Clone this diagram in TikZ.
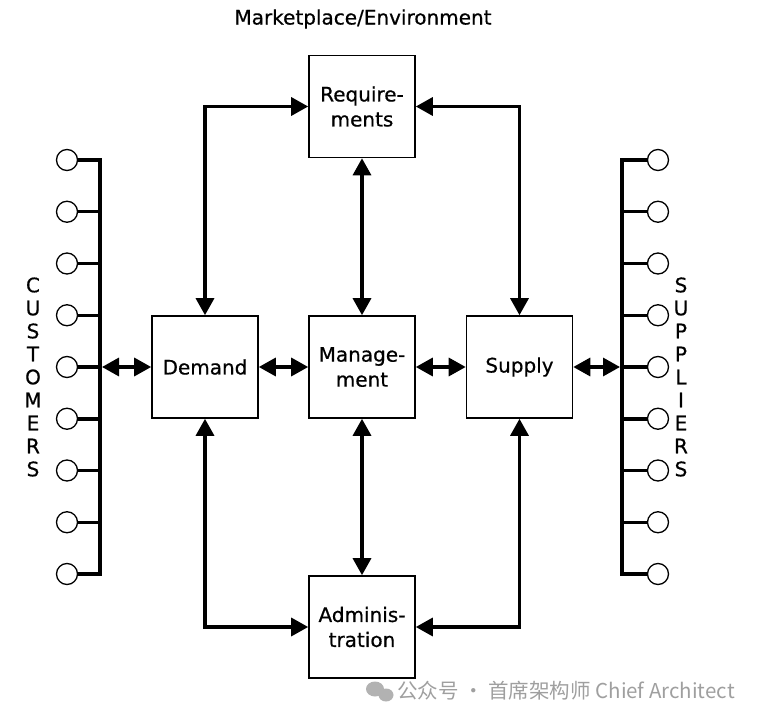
\documentclass[tikz,border=0pt]{standalone}
\usepackage{fontspec}
\setmainfont[FakeBold=0.6]{DejaVu Sans}
\newfontfamily\cjk{Noto Sans CJK SC}
\usetikzlibrary{arrows.meta,calc}
\begin{document}
\begin{tikzpicture}[x=1pt,y=-1pt,
  box/.style={draw,line width=1.6pt,minimum width=106pt,minimum height=102pt,inner sep=0pt,align=center,font=\fontsize{20}{25}\selectfont},
  dbl/.style={line width=3.3pt,{Triangle[length=17pt,width=18pt]}-{Triangle[length=17pt,width=18pt]}},
  bus/.style={line width=4pt},
  stub/.style={line width=3.5pt},
  pin/.style={circle,draw,line width=1.3pt,minimum size=21pt,inner sep=0pt,fill=white},
  lbl/.style={font=\fontsize{20}{23}\selectfont,align=center,inner sep=0pt}
]
\useasboundingbox (0,0) rectangle (758,722);

% title
\node[lbl] (title) at (363,19) {Marketplace/Environment};

% boxes
\node[box] (req) at (362,106.5) {Require-\\ments};
\node[box] (dem) at (205,367) {Demand};
\node[box] (man) at (362,367) {Manage-\\ment};
\node[box] (sup) at (519.5,367) {Supply};
\node[box] (adm) at (362,627) {Adminis-\\tration};

% customer / supplier pins
\foreach \i in {1,...,9} {
  \pgfmathsetmacro\yy{160+(\i-1)*51.75}
  \node[pin] (c\i) at (67,\yy) {};
  \node[pin] (s\i) at (658,\yy) {};
}
\coordinate (lbb) at (100,574);
\coordinate (rbb) at (622,574);
\coordinate (lbm) at (102,367);
\coordinate (rbm) at (620,367);

\draw[bus] (c1.east) -| (lbb) -- (c9.east);
\draw[bus] (s1.west) -| (rbb) -- (s9.west);
\foreach \i in {2,...,8} {
  \draw[stub] (c\i.east) -- (c\i.east -| lbb);
  \draw[stub] (s\i.west) -- (s\i.west -| rbb);
}

% side labels
\node[lbl] (cust) at (33,377) {C\\U\\S\\T\\O\\M\\E\\R\\S};
\node[lbl] (supp) at (681,377) {S\\U\\P\\P\\L\\I\\E\\R\\S};

% connectors
\draw[dbl] (lbm) -- (dem.west);
\draw[dbl] (sup.east) -- (rbm);
\draw[dbl] (dem.north) |- (req.west);
\draw[dbl] (sup.north) |- (req.east);
\draw[dbl] (req.south) -- (man.north);
\draw[dbl] (dem.east) -- (man.west);
\draw[dbl] (man.east) -- (sup.west);
\draw[dbl] (man.south) -- (adm.north);
\draw[dbl] (dem.south) |- (adm.west);
\draw[dbl] (sup.south) |- (adm.east);

% watermark
\fill[gray!60] (375,689) ellipse (9pt and 7.5pt);
\fill[gray!60] (386,695) ellipse (7.5pt and 6.5pt);
\node[text=gray!75,font=\cjk\fontsize{20.5}{20.5}\selectfont,anchor=west,inner sep=0pt] (wm) at (397,691) {公众号 · 首席架构师 Chief Architect};
\end{tikzpicture}
\end{document}
